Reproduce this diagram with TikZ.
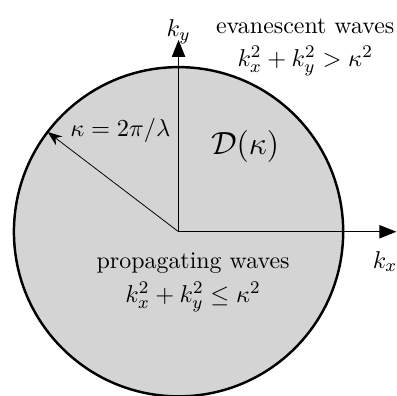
\documentclass[tikz,border=0pt]{standalone}
\usepackage{amsmath, amssymb}
\usetikzlibrary{arrows.meta, positioning}

\begin{document}
\begin{tikzpicture}[
            disk/.style={draw, line width=1.1pt, fill=black!17},
            axis/.style={-{Triangle[length=2.7mm, width=2.1mm]}, line width=0.5pt},
            radius/.style={-{Stealth[length=2.3mm, width=1.7mm]}, line width=0.35pt},
            label/.style={align=center, inner sep=1pt, font=\fontsize{10.75}{15}\selectfont}
        ]
        \useasboundingbox (-2.82,-2.58) rectangle (3.45,3.66);
        \coordinate (o) at (0,0);
        \node[disk, circle, minimum size=5.2cm, inner sep=0pt] (disk) at (o) {};
        \coordinate (xend) at (3.44,0);
        \coordinate (yend) at (0,3.03);
        \coordinate (rim) at (142.7:2.6);
        \draw[axis] (o) -- (xend);
        \draw[axis] (o) -- (yend);
        \draw[radius] (o) -- (rim);
        \node[label] (ky) at (0,3.16) {$k_y$};
        \node[label] (kx) at (3.26,-0.47) {$k_x$};
        \node[label] (kappa) at (-0.92,1.60) {$\kappa = 2\pi/\lambda$};
        \node[label, font=\fontsize{15.6}{18}\selectfont] (dk) at (1.05,1.34) {$\mathcal{D}(\kappa)$};
        \node[label] (eva) at (2.00,2.91) {
            evanescent waves \\
            $k_x^2 + k_y^2 > \kappa^2$
        };
        \node[label] (prop) at (0.23,-0.80) {
            propagating waves \\
            $k_x^2 + k_y^2 \leq \kappa^2$
        };
        \end{tikzpicture}
\end{document}
